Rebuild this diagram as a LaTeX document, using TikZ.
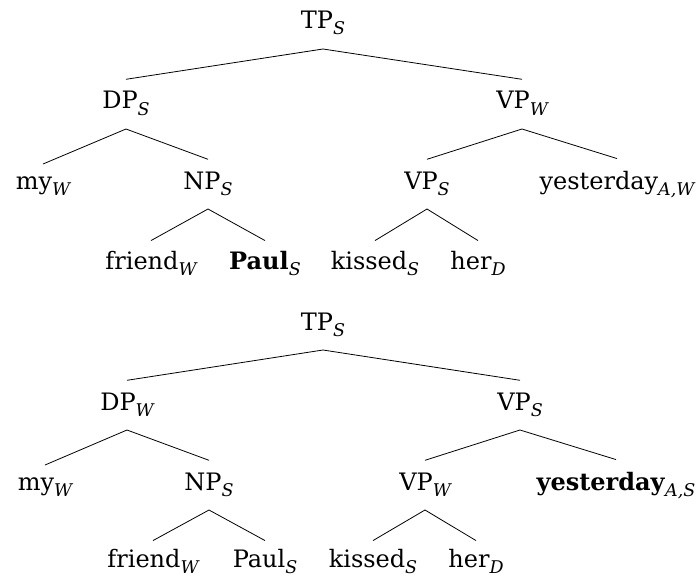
\documentclass[tikz,border=0pt]{standalone}
\usepackage{fontspec}
\setmainfont{DejaVu Serif}
\usetikzlibrary{calc}
\newcommand\lb[2]{#1\raisebox{-6pt}{\fontsize{17.5}{17.5}\selectfont\itshape #2}}
\begin{document}
\begin{tikzpicture}[x=1pt,y=-1pt,
  lab/.style={font=\fontsize{24}{24}\selectfont, inner xsep=0pt, inner ysep=0pt, anchor=base},
  br/.style={line width=0.8pt}]
\useasboundingbox (0,0) rectangle (699,578);
% ---------- top tree ----------
\node[lab] (atp) at (323,29) {\lb{TP}{S}};
\node[lab] (adp) at (126,109) {\lb{DP}{S}};
\node[lab] (avp) at (522,109) {\lb{VP}{W}};
\node[lab] (amy) at (43,189) {\lb{my}{W}};
\node[lab] (anp) at (208,189) {\lb{NP}{S}};
\node[lab] (avps) at (427,189) {\lb{VP}{S}};
\node[lab] (ayes) at (617,189) {\lb{yesterday}{A,W}};
\node[lab] (afr) at (151,269) {\lb{friend}{W}};
\node[lab] (apa) at (265,269) {\lb{\textbf{Paul}}{S}};
\node[lab] (aki) at (375,269) {\lb{kissed}{S}};
\node[lab] (ahe) at (478,269) {\lb{her}{D}};
\draw[br] ($(adp.north)+(0,-12)$) -- ($(atp.base)+(0,20)$) -- ($(avp.north)+(0,-12)$);
\draw[br] ($(amy.north)+(0,-12)$) -- ($(adp.base)+(0,20)$) -- ($(anp.north)+(0,-12)$);
\draw[br] ($(avps.north)+(0,-12)$) -- ($(avp.base)+(0,20)$) -- ($(ayes.north)+(0,-12)$);
\draw[br] ($(afr.north)+(0,-10)$) -- ($(anp.base)+(0,20)$) -- ($(apa.north)+(0,-10)$);
\draw[br] ($(aki.north)+(0,-10)$) -- ($(avps.base)+(0,20)$) -- ($(ahe.north)+(0,-10)$);
% ---------- bottom tree ----------
\node[lab] (btp) at (323,330) {\lb{TP}{S}};
\node[lab] (bdp) at (127,410) {\lb{DP}{W}};
\node[lab] (bvp) at (520,410) {\lb{VP}{S}};
\node[lab] (bmy) at (45,490) {\lb{my}{W}};
\node[lab] (bnp) at (209,490) {\lb{NP}{S}};
\node[lab] (bvpw) at (425,490) {\lb{VP}{W}};
\node[lab] (byes) at (616,490) {\lb{\textbf{yesterday}}{A,S}};
\node[lab] (bfr) at (153,567) {\lb{friend}{W}};
\node[lab] (bpa) at (265,567) {\lb{Paul}{S}};
\node[lab] (bki) at (373,567) {\lb{kissed}{S}};
\node[lab] (bhe) at (476,567) {\lb{her}{D}};
\draw[br] ($(bdp.north)+(0,-12)$) -- ($(btp.base)+(0,20)$) -- ($(bvp.north)+(0,-12)$);
\draw[br] ($(bmy.north)+(0,-12)$) -- ($(bdp.base)+(0,20)$) -- ($(bnp.north)+(0,-12)$);
\draw[br] ($(bvpw.north)+(0,-12)$) -- ($(bvp.base)+(0,20)$) -- ($(byes.north)+(0,-12)$);
\draw[br] ($(bfr.north)+(0,-8)$) -- ($(bnp.base)+(0,20)$) -- ($(bpa.north)+(0,-8)$);
\draw[br] ($(bki.north)+(0,-8)$) -- ($(bvpw.base)+(0,20)$) -- ($(bhe.north)+(0,-8)$);
\end{tikzpicture}
\end{document}
